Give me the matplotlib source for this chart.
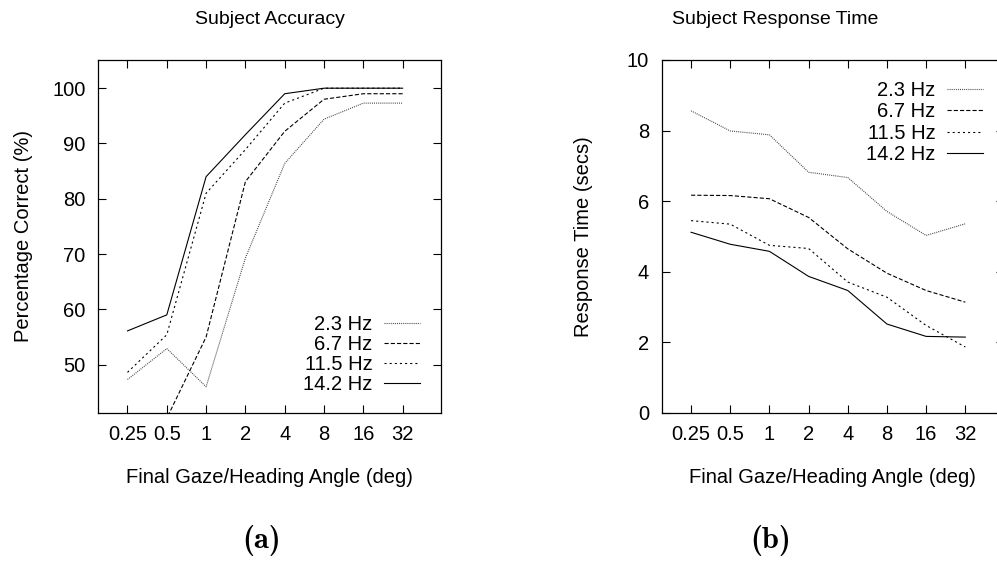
import numpy as np
import matplotlib
matplotlib.use("Agg")
import matplotlib.pyplot as plt

plt.rcParams['font.family'] = ['Liberation Sans', 'DejaVu Sans']
plt.rcParams['lines.scale_dashes'] = False

# data
angles = [0.25, 0.5, 1, 2, 4, 8, 16, 32]
angle_labels = ["0.25", "0.5", "1", "2", "4", "8", "16", "32"]
freqs = ["2.3 Hz", "6.7 Hz", "11.5 Hz", "14.2 Hz"]

acc_2_3 = [47.3, 52.9, 46.0, 69.3, 86.4, 94.4, 97.3, 97.3]
acc_6_7 = [38.0, 40.3, 55.0, 83.1, 92.2, 98.0, 99.0, 99.0]
acc_11_5 = [48.6, 55.4, 81.0, 88.9, 97.3, 100.0, 100.0, 100.0]
acc_14_2 = [56.1, 59.0, 84.0, 91.6, 99.0, 100.0, 100.0, 100.0]

rt_2_3 = [8.56, 7.99, 7.88, 6.82, 6.67, 5.71, 5.03, 5.36]
rt_6_7 = [6.17, 6.16, 6.07, 5.54, 4.65, 3.96, 3.47, 3.14]
rt_11_5 = [5.45, 5.35, 4.75, 4.66, 3.71, 3.28, 2.48, 1.87]
rt_14_2 = [5.12, 4.78, 4.58, 3.87, 3.47, 2.52, 2.17, 2.15]

styles = [
    dict(color="0.25", lw=0.8, dashes=(0.7, 0.8)),
    dict(color="black", lw=0.8, dashes=(3.0, 1.5)),
    dict(color="black", lw=0.8, dashes=(1.5, 2.2)),
    dict(color="black", lw=0.8, linestyle="-"),
]

W, H = 997, 581
fig = plt.figure(figsize=(W / 100, H / 100), dpi=100)
ax1 = fig.add_axes([98 / W, 1 - 413 / H, 343 / W, 353 / H])
ax2 = fig.add_axes([661.7 / W, 1 - 413 / H, 341.8 / W, 353 / H])

fs = 14.5


def setup(ax):
    ax.set_xscale("log", base=2)
    ax.set_xlim(2 ** -2.75, 2 ** 5.975)
    ax.set_xticks(angles)
    ax.set_xticklabels(angle_labels)
    ax.minorticks_off()
    ax.tick_params(direction="in", top=True, right=True, length=6, width=0.8,
                   labelsize=fs, pad=9)
    for s in ax.spines.values():
        s.set_linewidth(0.9)
    ax.set_xlabel("Final Gaze/Heading Angle (deg)", fontsize=fs, labelpad=17)


setup(ax1)
for vals, lab, st in zip([acc_2_3, acc_6_7, acc_11_5, acc_14_2], freqs, styles):
    ax1.plot(angles, vals, label=lab, **st)
ax1.set_ylim(41.25, 105.1)
ax1.set_yticks([50, 60, 70, 80, 90, 100])
ax1.set_title("Subject Accuracy", fontsize=14, pad=26)
ax1.set_ylabel("Percentage Correct (%)", fontsize=fs)
ax1.yaxis.set_label_coords((24 - 98) / 343, 0.5)
ax1.yaxis.label.set_va("center")
ax1.legend(loc="lower right", bbox_to_anchor=(1 - 21 / 343, 19 / 353),
           frameon=False, markerfirst=False, fontsize=fs, handlelength=1.8,
           handletextpad=0.55, labelspacing=0.05, borderpad=0, borderaxespad=0)

setup(ax2)
for vals, lab, st in zip([rt_2_3, rt_6_7, rt_11_5, rt_14_2], freqs, styles):
    ax2.plot(angles, vals, label=lab, **st)
ax2.set_ylim(0, 10)
ax2.set_yticks([0, 2, 4, 6, 8, 10])
ax2.set_title("Subject Response Time", fontsize=14, pad=26,
              x=(775 - 661.7) / 341.8)
ax2.set_ylabel("Response Time (secs)", fontsize=fs)
ax2.yaxis.set_label_coords((583 - 661.7) / 341.8, 0.5)
ax2.yaxis.label.set_va("center")
ax2.legend(loc="upper right", bbox_to_anchor=(1 - 20.5 / 341.8, 1 - 21 / 353),
           frameon=False, markerfirst=False, fontsize=fs, handlelength=1.8,
           handletextpad=0.55, labelspacing=0.12, borderpad=0, borderaxespad=0)

fig.text(262 / W, 1 - 540 / H, "(a)", fontfamily="cmb10", fontsize=22,
         ha="center", va="center")
fig.text(771 / W, 1 - 540 / H, "(b)", fontfamily="cmb10", fontsize=22,
         ha="center", va="center")

fig.savefig("out.png", dpi=100)
